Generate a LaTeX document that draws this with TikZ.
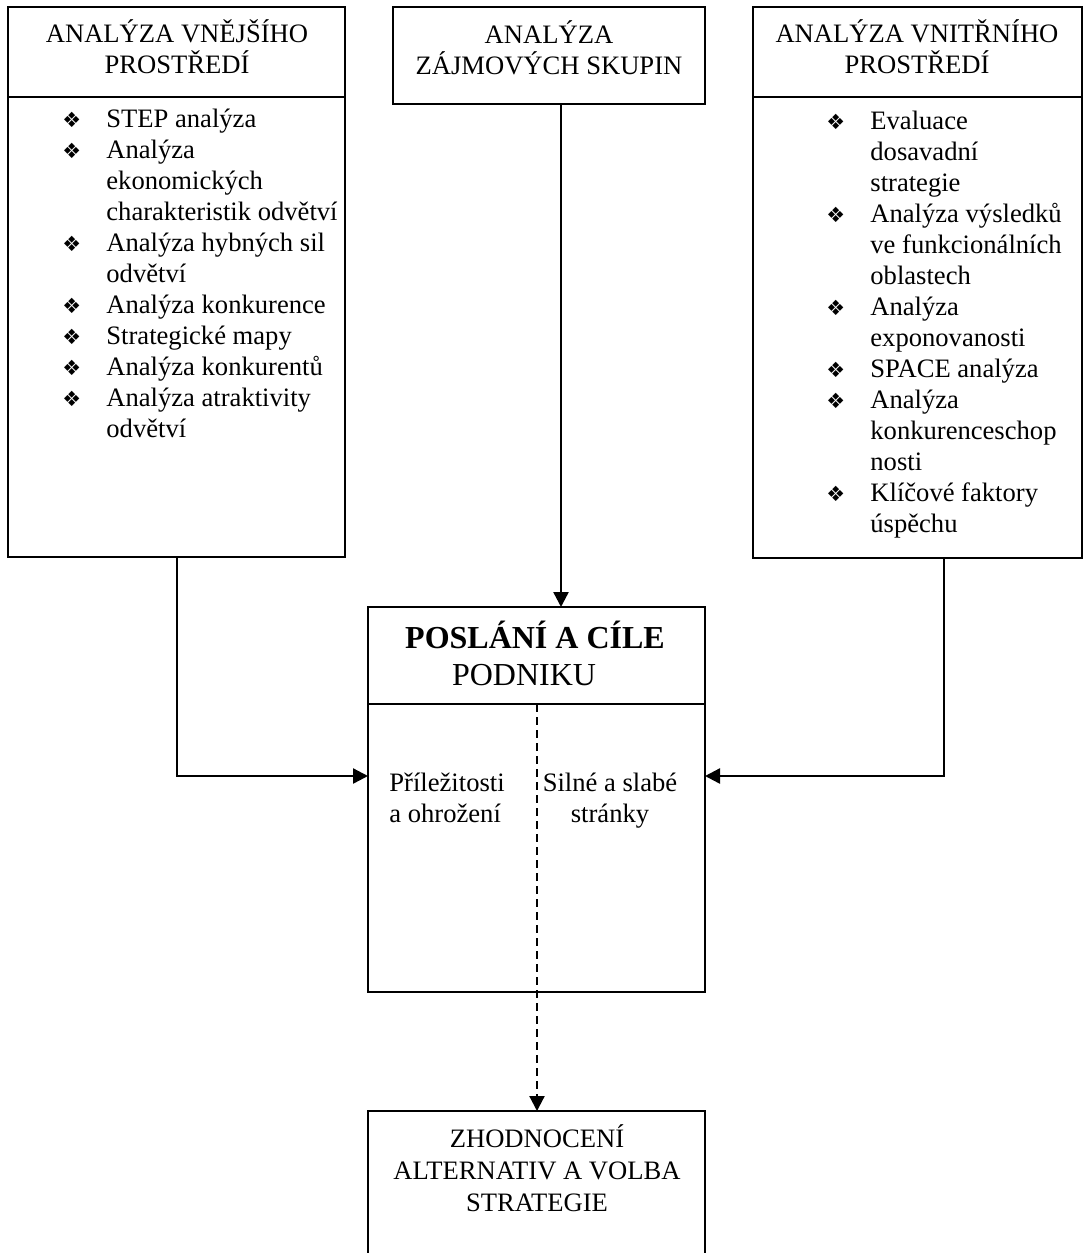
\documentclass[tikz,border=0pt]{standalone}
\usepackage{fontspec}
\setmainfont{Liberation Serif}
\newfontfamily\symf{DejaVu Sans}
\usetikzlibrary{arrows.meta}
\newcommand{\bul}{\makebox[22pt][l]{\symf\fontsize{10.5}{10.5}\selectfont ❖}}
\newcommand{\ind}{\hspace*{22pt}}
\begin{document}
\begin{tikzpicture}[x=0.5pt,y=-0.5pt,
  box/.style={draw, line width=1.2pt, inner sep=0pt, outer sep=0pt},
  sep/.style={line width=1.2pt},
  ttl/.style={align=center, font=\fontsize{13.3}{15.5}\selectfont, inner sep=0pt},
  lst/.style={align=left, font=\fontsize{13.3}{15.5}\selectfont, inner sep=0pt},
  conn/.style={line width=1.2pt, -{Triangle[length=7.5pt,width=7.5pt]}},
  dconn/.style={line width=1.1pt, dash pattern=on 4pt off 2.5pt, -{Triangle[length=7.5pt,width=7.5pt]}},
]
\useasboundingbox (0,0) rectangle (1083,1253);
\fill[white] (0,0) rectangle (1083,1253);
\coordinate (ydiv) at (0,97);
\coordinate (ypos) at (0,704);

% left box
\node[box, minimum width=168.5pt, minimum height=275pt] (vne) at (176.5,282) {};
\draw[sep] (vne.west |- ydiv) -- (vne.east |- ydiv);
\node[ttl, anchor=base] (vnet) at (177,73) {ANALÝZA VNĚJŠÍHO\\PROSTŘEDÍ};
\node[lst, anchor=base west] (vnel) at (62,437) {\bul STEP analýza\\\bul Analýza\\\ind ekonomických\\\ind charakteristik odvětví\\\bul Analýza hybných sil\\\ind odvětví\\\bul Analýza konkurence\\\bul Strategické mapy\\\bul Analýza konkurentů\\\bul Analýza atraktivity\\\ind odvětví};

% middle top box
\node[box, minimum width=156pt, minimum height=48.5pt] (zaj) at (549,55.5) {};
\node[ttl, anchor=base] (zajt) at (549,74) {ANALÝZA\\ZÁJMOVÝCH SKUPIN};

% right box
\node[box, minimum width=164.5pt, minimum height=275.5pt] (vni) at (917.5,282.5) {};
\draw[sep] (vni.west |- ydiv) -- (vni.east |- ydiv);
\node[ttl, anchor=base] (vnit) at (917,73) {ANALÝZA VNITŘNÍHO\\PROSTŘEDÍ};
\node[lst, anchor=base west] (vnil) at (826,532) {\bul Evaluace\\\ind dosavadní\\\ind strategie\\\bul Analýza výsledků\\\ind ve funkcionálních\\\ind oblastech\\\bul Analýza\\\ind exponovanosti\\\bul SPACE analýza\\\bul Analýza\\\ind konkurenceschop\\\ind nosti\\\bul Klíčové faktory\\\ind úspěchu};

% centre box
\node[box, minimum width=168.5pt, minimum height=192.5pt] (pos) at (536.5,799.5) {};
\draw[sep] (pos.west |- ypos) -- (pos.east |- ypos);
\node[align=center, inner sep=0pt, font=\fontsize{16}{18.5}\selectfont, anchor=base] (post) at (535,685.5) {\textbf{POSLÁNÍ A CÍLE}\\PODNIKU\hspace*{11pt}};
\node[lst, anchor=base west] (prl) at (389,822) {Příležitosti\\a ohrožení};
\node[ttl, anchor=base] (sil) at (610,822) {Silné a slabé\\stránky};

% bottom box
\node[box, minimum width=168.5pt, minimum height=94.5pt] (zho) at (536.5,1205.5) {};
\node[align=center, inner sep=0pt, font=\fontsize{13.3}{16}\selectfont, anchor=base] (zhot) at (537,1211) {ZHODNOCENÍ\\ALTERNATIV A VOLBA\\STRATEGIE};

% connectors
\coordinate (lturn) at (177,776);
\coordinate (rturn) at (944,776);
\coordinate (mx) at (561,0);
\coordinate (dtop) at (537,704);
\draw[conn] (lturn |- vne.south) -- (lturn) -- (lturn -| pos.west);
\draw[conn] (rturn |- vni.south) -- (rturn) -- (rturn -| pos.east);
\draw[conn] (mx |- zaj.south) -- (mx |- pos.north);
\draw[dconn] (dtop) -- (dtop |- zho.north);
\end{tikzpicture}
\end{document}
